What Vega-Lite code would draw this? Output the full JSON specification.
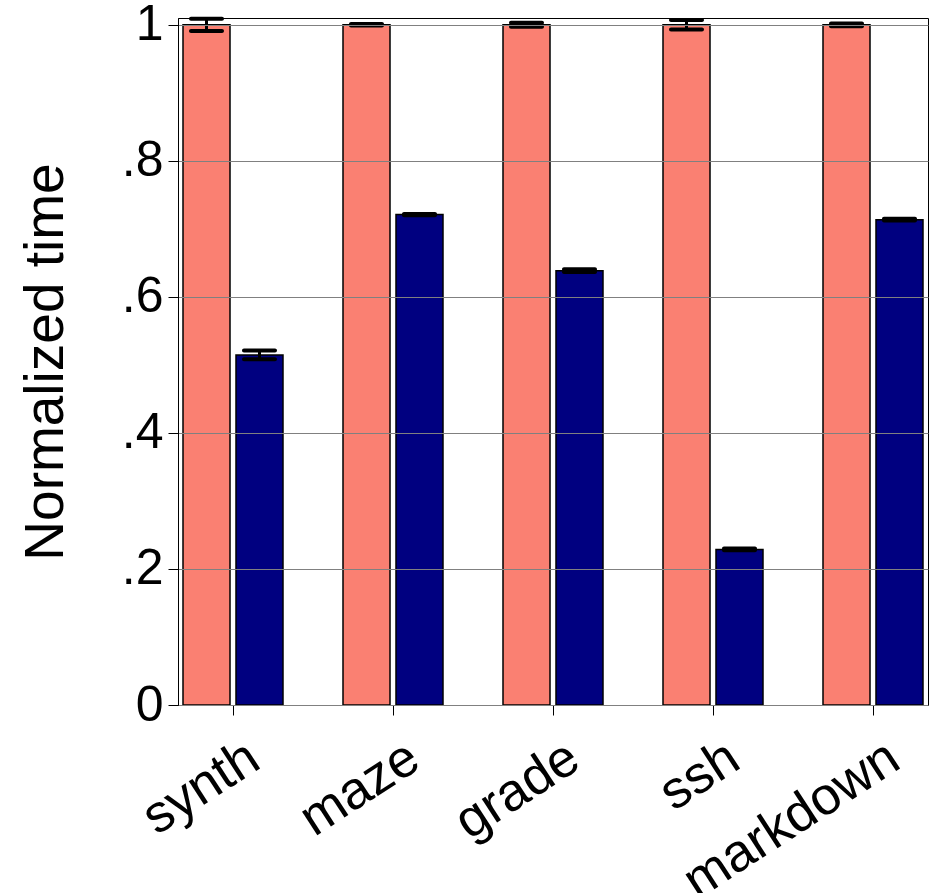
{
  "$schema": "https://vega.github.io/schema/vega-lite/v6.json",
  "autosize": {"type": "none"},
  "padding": {"left": 178, "top": 18, "right": 10, "bottom": 188},
  "width": 750,
  "height": 687,
  "background": "white",
  "view": {"stroke": "black", "strokeWidth": 1},
  "config": {"font": "Liberation Sans"},
  "data": {
    "values": [
      {"bench": "synth", "cfg": "a", "value": 1.0, "lo": 0.991, "hi": 1.009},
      {"bench": "synth", "cfg": "b", "value": 0.5147, "lo": 0.5084, "hi": 0.521},
      {"bench": "maze", "cfg": "a", "value": 1.0, "lo": 0.999, "hi": 1.001},
      {"bench": "maze", "cfg": "b", "value": 0.721, "lo": 0.72, "hi": 0.722},
      {"bench": "grade", "cfg": "a", "value": 1.0, "lo": 0.997, "hi": 1.003},
      {"bench": "grade", "cfg": "b", "value": 0.6385, "lo": 0.6365, "hi": 0.6405},
      {"bench": "ssh", "cfg": "a", "value": 1.0, "lo": 0.993, "hi": 1.007},
      {"bench": "ssh", "cfg": "b", "value": 0.2287, "lo": 0.2275, "hi": 0.2299},
      {"bench": "markdown", "cfg": "a", "value": 1.0, "lo": 0.998, "hi": 1.002},
      {"bench": "markdown", "cfg": "b", "value": 0.7135, "lo": 0.7122, "hi": 0.7148}
    ]
  },
  "encoding": {
    "x": {
      "field": "bench", "type": "nominal", "sort": null,
      "scale": {"paddingInner": 0.375, "paddingOuter": 0.03125},
      "axis": {
        "title": null, "labelAngle": -33, "labelAlign": "right", "labelBaseline": "top",
        "labelFontSize": 53, "labelColor": "black", "labelOffset": 7, "labelPadding": 16,
        "labelLimit": 0, "labelOverlap": false,
        "tickSize": 10, "tickColor": "black", "domainColor": "black", "grid": false
      }
    },
    "xOffset": {"field": "cfg", "type": "nominal", "scale": {"paddingInner": 0.113, "paddingOuter": 0}}
  },
  "layer": [
    {
      "mark": {"type": "bar", "stroke": "black", "strokeWidth": 1.5},
      "encoding": {
        "y": {
          "field": "value", "type": "quantitative",
          "scale": {"domain": [0, 1.01], "nice": false, "zero": true},
          "axis": {
            "title": "Normalized time", "titleFontSize": 55, "titleFontWeight": "normal", "titleColor": "black",
            "titlePadding": 47,
            "values": [0, 0.2, 0.4, 0.6, 0.8, 1],
            "labelExpr": "datum.value == 0 ? '0' : datum.value == 1 ? '1' : replace(format(datum.value, '.1f'), '0.', '.')",
            "labelFontSize": 50, "labelColor": "black", "labelPadding": 5,
            "tickSize": 10, "tickColor": "black", "domainColor": "black",
            "grid": true, "gridColor": "#808080", "gridWidth": 1, "gridOpacity": 1,
            "zindex": 1
          }
        },
        "fill": {
          "field": "cfg", "type": "nominal",
          "scale": {"domain": ["a", "b"], "range": ["#FA8072", "#000080"]},
          "legend": null
        }
      }
    },
    {
      "mark": {"type": "rule", "color": "black", "strokeWidth": 3},
      "encoding": {
        "y": {"field": "lo", "type": "quantitative"},
        "y2": {"field": "hi"}
      }
    },
    {
      "mark": {"type": "tick", "color": "black", "size": 35, "thickness": 4, "cornerRadius": 2, "opacity": 1},
      "encoding": {"y": {"field": "lo", "type": "quantitative"}}
    },
    {
      "mark": {"type": "tick", "color": "black", "size": 35, "thickness": 4, "cornerRadius": 2, "opacity": 1},
      "encoding": {"y": {"field": "hi", "type": "quantitative"}}
    }
  ]
}
